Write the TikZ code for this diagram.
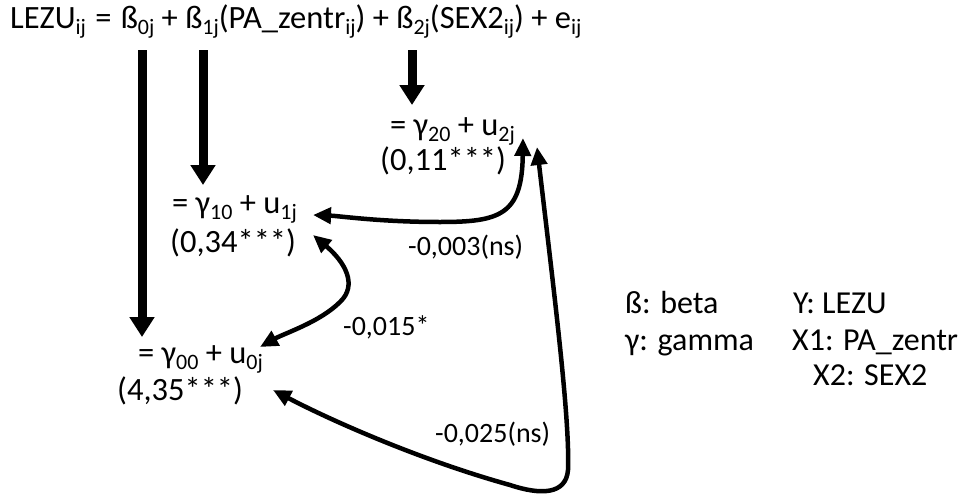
\documentclass[tikz,border=0pt]{standalone}
\usepackage{fontspec}
\setmainfont{Carlito}
\usetikzlibrary{arrows.meta}
\newcommand\lo[1]{\raisebox{-6pt}{\fontsize{22}{22}\selectfont #1}}
\tikzset{
  txt/.style={anchor=base west, inner sep=0pt, font=\fontsize{32.5}{32.5}\selectfont},
  lbl/.style={anchor=base west, inner sep=0pt, font=\fontsize{28}{28}\selectfont},
  leg/.style={anchor=base west, inner sep=0pt, font=\fontsize{32}{32}\selectfont},
  bigarrow/.style={line width=9pt, -{Triangle[length=20pt,width=24pt]}},
  curvearrow/.style={line width=4.5pt, {Triangle[length=18pt,width=16pt]}-{Triangle[length=18pt,width=16pt]}}
}
\begin{document}
\begin{tikzpicture}[x=1pt,y=-1pt]
\fill[white] (0,0) rectangle (972,493);
\useasboundingbox (0,0) rectangle (972,493);
\node[txt] (eq) at (10,28) {LEZU\lo{ij}\hspace{2pt} = \hspace{2pt}ß\lo{0j} + ß\lo{1j}(PA\_zentr\lo{ij}) + ß\lo{2j}(SEX2\lo{ij}) + e\lo{ij}};
\node[txt] (g20) at (390,135) {= γ\lo{20} + u\lo{2j}};
\node[txt] (c20) at (380,170) {(0,11***)};
\node[txt] (g10) at (172,213) {= γ\lo{10} + u\lo{1j}};
\node[txt] (c10) at (170,252) {(0,34***)};
\node[txt] (g00) at (138,363) {= γ\lo{00} + u\lo{0j}};
\node[txt] (c00) at (117,400) {(4,35***)};
\node[lbl] (l1) at (408,255) {-0,003(ns)};
\node[lbl] (l2) at (343,335) {-0,015*};
\node[lbl] (l3) at (435,442) {-0,025(ns)};
\node[leg] (k1) at (625,313) {ß: beta};
\node[leg] (k2) at (625,350) {γ: gamma};
\node[leg] (k3) at (793,313) {Y: LEZU};
\node[leg] (k4) at (792,350) {X1: PA\_zentr};
\node[leg] (k5) at (813,385) {X2: SEX2};
\coordinate (b0) at (142,50);
\coordinate (b0e) at (142,337);
\coordinate (b1) at (203,50);
\coordinate (b1e) at (203,185);
\coordinate (b2) at (412,50);
\coordinate (b2e) at (412,105);
\coordinate (u2a) at (523,138);
\coordinate (u1a) at (313,215);
\coordinate (u1b) at (313,235);
\coordinate (u0a) at (260,347);
\coordinate (u2b) at (537,147);
\coordinate (u0b) at (273,390);
\draw[bigarrow] (b0) -- (b0e);
\draw[bigarrow] (b1) -- (b1e);
\draw[bigarrow] (b2) -- (b2e);
\draw[curvearrow] (u2a) .. controls (522,215) and (500,222) .. (440,222) .. controls (380,222) and (340,216) .. (u1a);
\draw[curvearrow] (u1b) .. controls (345,262) and (358,285) .. (340,302) .. controls (320,322) and (285,333) .. (u0a);
\draw[curvearrow] (u2b) .. controls (555,300) and (570,420) .. (568,470) .. controls (566,495) and (540,495) .. (510,485) .. controls (420,460) and (330,420) .. (u0b);
\end{tikzpicture}
\end{document}
